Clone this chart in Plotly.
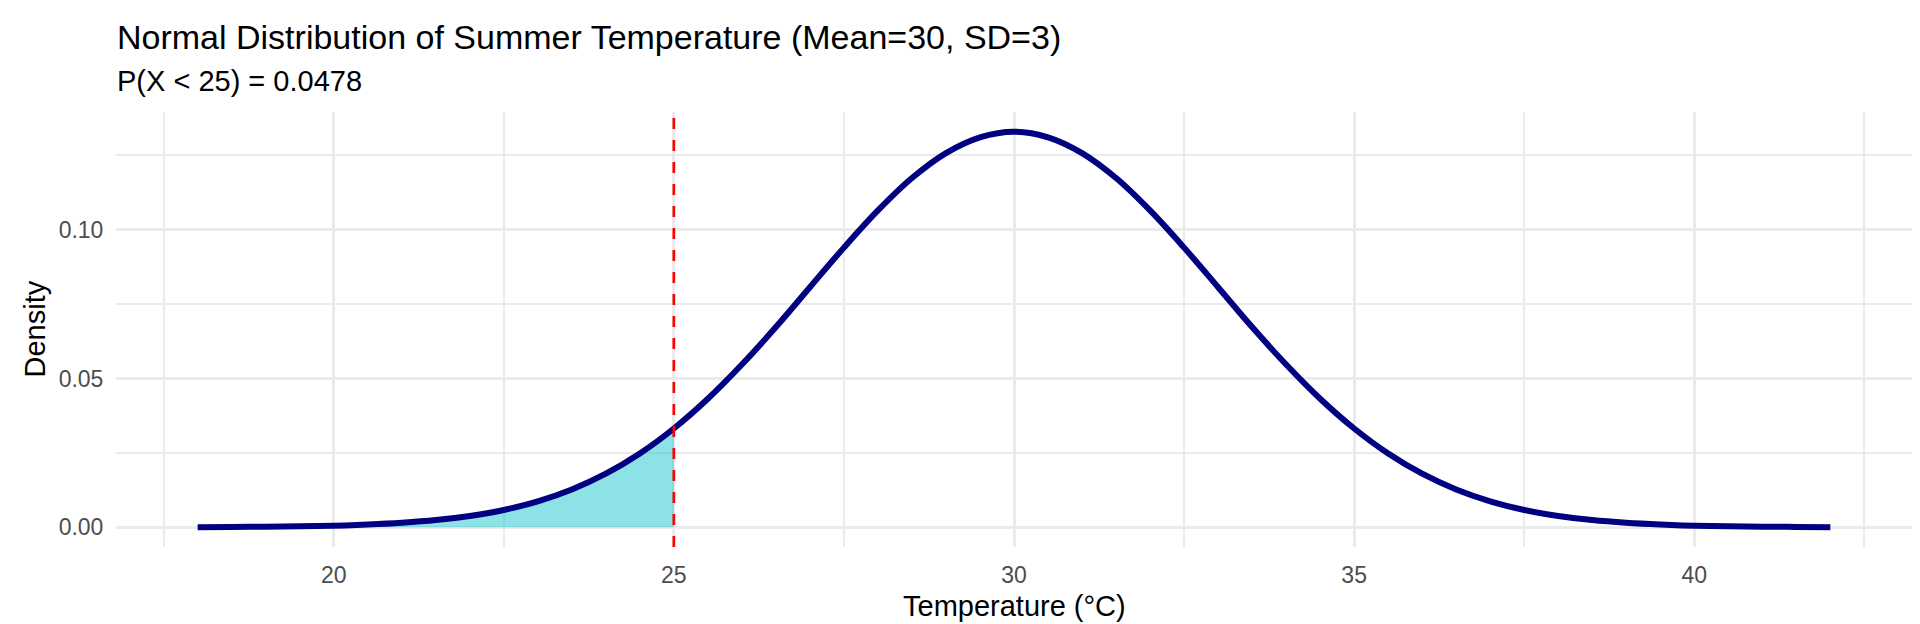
import plotly.graph_objects as go

# values (Normal, mean 30, sd 3)
temperature = [18, 18.5, 19, 19.5, 20, 20.5, 21, 21.5, 22, 22.5, 23, 23.5,
               24, 24.5, 25, 25.5, 26, 26.5, 27, 27.5, 28, 28.5, 29, 29.5,
               30, 30.5, 31, 31.5, 32, 32.5, 33, 33.5, 34, 34.5, 35, 35.5,
               36, 36.5, 37, 37.5, 38, 38.5, 39, 39.5, 40, 40.5, 41, 41.5, 42]
density = [0.0000, 0.0001, 0.0002, 0.0003, 0.0005, 0.0009, 0.0015, 0.0024,
           0.0038, 0.0058, 0.0087, 0.0127, 0.0180, 0.0248, 0.0332, 0.0432,
           0.0547, 0.0673, 0.0807, 0.0940, 0.1065, 0.1174, 0.1258, 0.1311,
           0.1330,
           0.1311, 0.1258, 0.1174, 0.1065, 0.0940, 0.0807, 0.0673, 0.0547,
           0.0432, 0.0332, 0.0248, 0.0180, 0.0127, 0.0087, 0.0058, 0.0038,
           0.0024, 0.0015, 0.0009, 0.0005, 0.0003, 0.0002, 0.0001, 0.0000]
cutoff = 25
prob_below = 0.0478

x_ticks = [20, 25, 30, 35, 40]
y_ticks = [0.00, 0.05, 0.10]
y_tick_labels = ["0.00", "0.05", "0.10"]

tail_x = [t for t in temperature if t <= cutoff]
tail_y = density[:len(tail_x)]

FONT = "Liberation Sans"
GRID = "#EBEBEB"

fig = go.Figure()

# shaded tail below the cutoff
fig.add_trace(go.Scatter(
    x=tail_x, y=tail_y, mode="lines", fill="tozeroy",
    fillcolor="rgba(0,190,195,0.45)",
    line=dict(width=0, shape="spline", color="rgba(0,0,0,0)"),
    hoverinfo="skip"
))
fig.add_trace(go.Scatter(
    x=temperature, y=density, mode="lines",
    line=dict(color="#000080", width=6, shape="spline"),
    hoverinfo="skip"
))

fig.add_vline(x=cutoff, line=dict(color="#FF0000", width=2.7, dash="11px,11px"),
              layer="above")

fig.update_layout(
    width=1920,
    height=624,
    margin=dict(l=108, r=16, t=104, b=85),
    paper_bgcolor="white",
    plot_bgcolor="white",
    showlegend=False,
    font=dict(family=FONT, color="black"),
    xaxis=dict(
        range=[16.8, 43.2],
        tickvals=x_ticks,
        showgrid=True, gridcolor=GRID, gridwidth=2.7,
        minor=dict(dtick=2.5, tick0=0, showgrid=True, gridcolor=GRID, gridwidth=1.5),
        zeroline=False, showline=False,
        ticks="outside", ticklen=7, tickcolor="rgba(0,0,0,0)",
        tickfont=dict(family=FONT, size=23, color="#4D4D4D"),
    ),
    yaxis=dict(
        range=[-0.00665, 0.1396],
        tickvals=y_ticks, ticktext=y_tick_labels,
        showgrid=True, gridcolor=GRID, gridwidth=2.7,
        minor=dict(dtick=0.025, tick0=0, showgrid=True, gridcolor=GRID, gridwidth=1.5),
        zeroline=False, showline=False,
        ticks="outside", ticklen=7, tickcolor="rgba(0,0,0,0)",
        tickfont=dict(family=FONT, size=23, color="#4D4D4D"),
    ),
    annotations=[
        dict(text="Normal Distribution of Summer Temperature (Mean=30, SD=3)",
             xref="paper", yref="paper", x=0, y=1, xanchor="left", yanchor="bottom",
             yshift=55, showarrow=False, borderpad=0,
             font=dict(family=FONT, size=34, color="black")),
        dict(text=f"P(X < {cutoff}) = {prob_below}",
             xref="paper", yref="paper", x=0, y=1, xanchor="left", yanchor="bottom",
             yshift=14, showarrow=False, borderpad=0,
             font=dict(family=FONT, size=29, color="black")),
        dict(text="Temperature (°C)",
             xref="paper", yref="paper", x=0.5, y=0, xanchor="center", yanchor="top",
             yshift=-42, showarrow=False, borderpad=0,
             font=dict(family=FONT, size=29, color="black")),
        dict(text="Density", textangle=-90,
             xref="paper", yref="paper", x=0, y=0.5, xanchor="center", yanchor="middle",
             xshift=-82, showarrow=False, borderpad=0,
             font=dict(family=FONT, size=29, color="black")),
    ],
)

fig.write_html("out.html")
